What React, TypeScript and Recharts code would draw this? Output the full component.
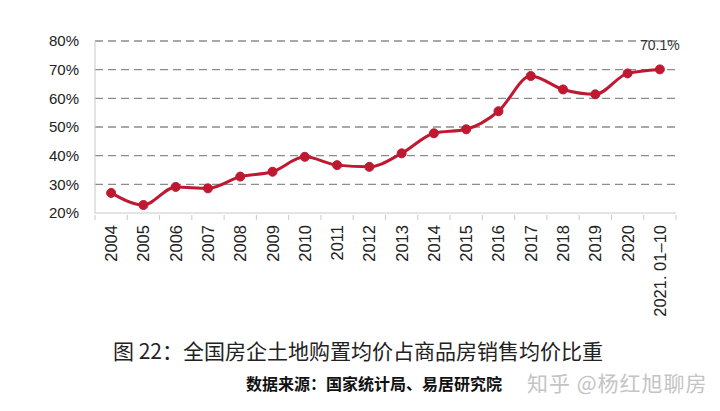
import { LineChart, Line, XAxis, YAxis, CartesianGrid, LabelList } from 'recharts';

const years = [
  '2004', '2005', '2006', '2007', '2008', '2009', '2010', '2011', '2012',
  '2013', '2014', '2015', '2016', '2017', '2018', '2019', '2020', '2021. 01–10',
];
const ratio = [
  27.0, 22.8, 29.1, 28.6, 32.7, 34.4, 39.6, 36.7, 36.1,
  40.8, 47.8, 49.2, 55.5, 67.8, 63.1, 61.4, 68.7, 70.1,
];
const yTicks = [20, 30, 40, 50, 60, 70, 80];
const gridValues = [30, 40, 50, 60, 70, 80];

const data = years.map((year, i) => ({ year, ratio: ratio[i] }));

const W = 720;
const H = 330;
const LEFT = 95;
const RIGHT = 44;
const BAND = (W - LEFT - RIGHT) / years.length;
const FONT = '"Liberation Sans", Arial, sans-serif';

const XTick = (props: any) => {
  const { x, y, payload, index } = props;
  return (
    <g>
      <line x1={x - BAND / 2} y1={y - 4} x2={x - BAND / 2} y2={y + 1} stroke="#c8c8c8" />
      {index === years.length - 1 && (
        <line x1={x + BAND / 2} y1={y - 4} x2={x + BAND / 2} y2={y + 1} stroke="#c8c8c8" />
      )}
      <text
        x={x}
        y={y + 6}
        transform={`rotate(-90, ${x}, ${y + 6})`}
        textAnchor="end"
        dominantBaseline="central"
        fontSize={16.5}
        fontFamily={FONT}
        fill="#222"
      >
        {payload.value}
      </text>
    </g>
  );
};

const LastLabel = (props: any) => {
  const { x, y, index, value } = props;
  if (index !== ratio.length - 1) return null;
  return (
    <text x={x} y={y - 19} textAnchor="middle" fontSize={14} fontFamily={FONT} fill="#333">
      {`${value.toFixed(1)}%`}
    </text>
  );
};

export default function App() {
  return (
    <div style={{ position: 'absolute', left: 0, top: 0, width: W, height: 411, background: '#fff' }}>
      <LineChart width={W} height={H} data={data} margin={{ top: 41, right: RIGHT, bottom: 0, left: 0 }}>
        <CartesianGrid
          vertical={false}
          horizontalValues={gridValues}
          stroke="#8c8c8c"
          strokeWidth={1.3}
          strokeDasharray="8 5"
        />
        <XAxis
          dataKey="year"
          scale="band"
          height={H - 41 - 172}
          interval={0}
          stroke="#c8c8c8"
          tickLine={false}
          tick={<XTick />}
          tickMargin={0}
        />
        <YAxis
          width={LEFT}
          domain={[20, 80]}
          ticks={yTicks}
          stroke="#c8c8c8"
          tickLine={false}
          tickSize={0}
          tickMargin={16}
          tickFormatter={(v) => `${v}%`}
          tick={{ fontSize: 15, fontFamily: FONT, fill: '#222' }}
          interval={0}
        />
        <Line
          type="monotone"
          dataKey="ratio"
          stroke="#be1931"
          strokeWidth={3}
          dot={{ r: 4.5, fill: '#be1931', stroke: '#be1931', strokeWidth: 1 }}
          isAnimationActive={false}
        >
          <LabelList dataKey="ratio" content={<LastLabel />} />
        </Line>
      </LineChart>
      <div
        style={{
          position: 'absolute',
          left: 113,
          top: 336,
          fontSize: 21,
          fontFamily: '"Noto Sans CJK SC", sans-serif',
          color: '#222',
          whiteSpace: 'nowrap',
          lineHeight: '28px',
        }}
      >
        图 22：全国房企土地购置均价占商品房销售均价比重
      </div>
      <div
        style={{
          position: 'absolute',
          left: 246,
          top: 372,
          fontSize: 16,
          fontWeight: 'bold',
          fontFamily: '"Noto Sans CJK SC", sans-serif',
          color: '#111',
          whiteSpace: 'nowrap',
          lineHeight: '22px',
        }}
      >
        数据来源：国家统计局、易居研究院
      </div>
      <div
        style={{
          position: 'absolute',
          left: 527,
          top: 368,
          fontSize: 21,
          letterSpacing: 1,
          fontFamily: '"Noto Sans CJK SC", sans-serif',
          color: '#c4c4c4',
          whiteSpace: 'nowrap',
          lineHeight: '28px',
        }}
      >
        知乎 @杨红旭聊房
      </div>
    </div>
  );
}
